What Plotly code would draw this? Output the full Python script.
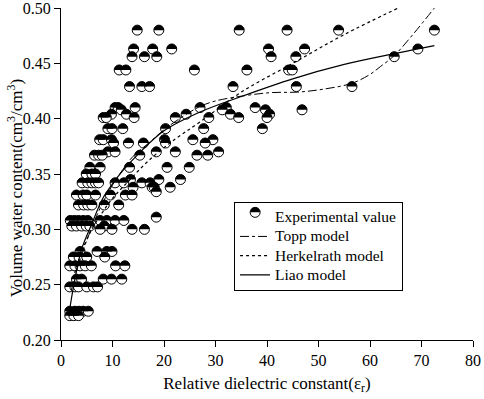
import plotly.graph_objects as go

# ---- data ----
water_levels = [0.480, 0.463, 0.456, 0.444, 0.429, 0.410, 0.408, 0.404, 0.401, 0.391,
                0.381, 0.378, 0.370, 0.367, 0.356, 0.350, 0.345, 0.342, 0.338, 0.334,
                0.331, 0.322, 0.311, 0.308, 0.303, 0.300, 0.280, 0.275, 0.267, 0.255,
                0.248, 0.226, 0.222]
eps_rows = [
    [14.8, 19.0, 34.6, 43.9, 53.9, 72.5],
    [14.1, 17.8, 21.5, 40.3, 47.3, 69.3],
    [13.8, 16.2, 18.6, 40.8, 45.6, 64.7],
    [11.3, 12.6, 25.9, 36.1, 44.2, 44.9],
    [13.3, 15.7, 17.2, 33.4, 45.7, 56.5],
    [10.5, 11.1, 14.4, 27.0, 32.1, 37.7],
    [11.7, 31.3, 39.7, 46.8],
    [9.8, 12.7, 24.3, 32.9, 40.5],
    [8.2, 8.8, 14.2, 22.2, 28.7, 34.5, 40.0],
    [9.1, 9.9, 12.0, 20.3, 27.7, 39.1],
    [7.5, 8.2, 9.8, 20.1, 25.6, 29.5],
    [10.2, 13.1, 16.0, 20.3, 28.0],
    [9.1, 10.5, 18.5, 22.2, 30.6],
    [6.5, 7.3, 8.0, 15.3, 26.4, 28.5],
    [5.6, 7.6, 13.3, 20.6, 24.9],
    [4.9, 6.0, 6.7],
    [13.5, 19.0, 23.2],
    [4.1, 5.2, 6.0, 6.7, 7.3, 10.5, 12.2, 15.7, 17.3],
    [14.0, 17.7, 18.1, 21.2],
    [18.5],
    [3.0, 4.3, 5.0, 6.7, 9.6, 12.5, 13.8],
    [3.4, 4.4, 5.2, 6.0, 8.4, 11.2],
    [18.5],
    [1.8, 2.6, 3.4, 4.3, 5.2, 7.6, 8.9, 10.5, 12.2],
    [2.1, 3.0, 4.0, 4.9, 5.6, 8.4],
    [7.6, 9.9, 13.8, 16.2],
    [3.7, 7.0, 8.9, 9.9],
    [2.4, 3.5, 5.0, 8.5],
    [1.7, 2.7, 3.7, 4.7, 5.9, 10.6, 12.4],
    [3.0, 4.0, 8.2, 9.8, 11.8],
    [1.7, 2.7, 3.4, 5.0, 6.3, 7.1],
    [1.7, 2.7, 3.5, 4.3, 5.3],
    [1.7, 2.5, 3.4],
]

topp_eps = [2, 3, 4, 6, 8, 10, 12, 14, 17.3, 20, 24, 27, 30, 36, 41, 46, 51, 56.5, 60, 62, 64.7, 68.5, 72.5]
topp_theta = [0.245, 0.262, 0.277, 0.302, 0.323, 0.340, 0.354, 0.366, 0.379, 0.390, 0.403, 0.411, 0.416,
              0.421, 0.4236, 0.424, 0.4267, 0.432, 0.440, 0.447, 0.457, 0.477, 0.500]

herk_eps = [2, 3, 4, 6, 8, 10, 13, 17, 22, 27, 35, 45, 55, 65.5]
herk_theta = [0.250, 0.266, 0.280, 0.300, 0.315, 0.328, 0.343, 0.362, 0.381, 0.397, 0.424, 0.450, 0.476, 0.500]

liao_eps = [1.5, 2.5, 4, 6, 8, 10, 12, 15, 20, 27, 35, 45, 55, 65, 72.5]
liao_theta = [0.222, 0.250, 0.282, 0.305, 0.327, 0.341, 0.353, 0.368, 0.389, 0.406, 0.420, 0.436, 0.449, 0.459, 0.466]

series_names = ["Experimental value", "Topp model", "Herkelrath model", "Liao model"]

x_ticks = [0, 10, 20, 30, 40, 50, 60, 70, 80]
y_ticks = [0.20, 0.25, 0.30, 0.35, 0.40, 0.45, 0.50]

exp_eps = [e for row in eps_rows for e in row]
exp_theta = [w for w, row in zip(water_levels, eps_rows) for _ in row]

SERIF = "Times New Roman, Liberation Serif, DejaVu Serif, serif"
R = 5.0                 # marker radius in pixels
K = 0.5523 * R
UPPER_HALF = (f"M {-R},0 C {-R},{K} {-K},{R} 0,{R} "
              f"C {K},{R} {R},{K} {R},0 Z")


def legend_label(name):
    # larger visible text, while the legend rows keep a compact spacing
    return f'<span style="font-size:15.5px">{name}</span>'


def half_fill(xa, ya, xref="x", yref="y"):
    return dict(type="path", path=UPPER_HALF, xref=xref, yref=yref,
                xsizemode="pixel", ysizemode="pixel", xanchor=xa, yanchor=ya,
                fillcolor="black", line=dict(width=0), layer="above")


fig = go.Figure()

# experimental points: white circles with a black outline ...
fig.add_trace(go.Scatter(
    x=exp_eps, y=exp_theta, mode="markers", showlegend=False, hoverinfo="skip",
    marker=dict(symbol="circle", size=2 * R, color="white", line=dict(width=1, color="black"))))

# legend entry for experimental values (its symbol is drawn by shapes below)
fig.add_trace(go.Scatter(
    x=[None], y=[None], mode="markers", name=legend_label(series_names[0]),
    marker=dict(size=9, color="rgba(0,0,0,0)", line=dict(width=0))))

fig.add_trace(go.Scatter(x=topp_eps, y=topp_theta, mode="lines", name=legend_label(series_names[1]),
                         line=dict(color="black", width=1, dash="dashdot", shape="spline")))
fig.add_trace(go.Scatter(x=herk_eps, y=herk_theta, mode="lines", name=legend_label(series_names[2]),
                         line=dict(color="black", width=1.2, dash="dot", shape="spline")))
fig.add_trace(go.Scatter(x=liao_eps, y=liao_theta, mode="lines", name=legend_label(series_names[3]),
                         line=dict(color="black", width=1.2, shape="spline")))

# ... whose upper halves are filled black (anchored at each data point)
shapes = [half_fill(e, t) for e, t in zip(exp_eps, exp_theta)]

# legend symbol for the experimental values
LEG_X, LEG_Y = 0.4712, 0.3845
shapes.append(dict(type="circle", xref="paper", yref="paper", xsizemode="pixel", ysizemode="pixel",
                   xanchor=LEG_X, yanchor=LEG_Y, x0=-R, x1=R, y0=-R, y1=R,
                   fillcolor="white", line=dict(color="black", width=1), layer="above"))
shapes.append(half_fill(LEG_X, LEG_Y, "paper", "paper"))

fig.update_layout(
    width=484, height=399,
    margin=dict(l=61, r=11, t=8, b=59, autoexpand=False),
    paper_bgcolor="white", plot_bgcolor="white",
    font=dict(family=SERIF, color="black", size=16),
    showlegend=True,
    legend=dict(x=0.42, y=0.417, xanchor="left", yanchor="top",
                bgcolor="rgba(0,0,0,0)", bordercolor="black", borderwidth=1,
                font=dict(family=SERIF, size=12.5, color="black"),
                tracegroupgap=0, itemclick=False),
    shapes=shapes,
    annotations=[
        dict(text="Volume water content(cm<sup>3</sup>/cm<sup>3</sup>)", textangle=-90,
             x=-0.111, y=0.458, xref="paper", yref="paper", xanchor="center", yanchor="middle",
             showarrow=False, font=dict(family=SERIF, size=17, color="black")),
    ],
)

fig.update_xaxes(range=[0, 80], tickvals=x_ticks, ticktext=[str(v) for v in x_ticks],
                 showline=True, linecolor="black", linewidth=1.2, ticks="outside",
                 ticklen=6, tickcolor="black", tickwidth=1.2, showgrid=False, zeroline=False,
                 automargin=False, ticklabeloverflow="allow", tickfont=dict(family=SERIF, size=16),
                 title=dict(text="Relative dielectric constant(\u03b5<sub>r</sub>)",
                            font=dict(family=SERIF, size=17), standoff=8))
fig.update_yaxes(range=[0.20, 0.50], tickvals=y_ticks, ticktext=[f"{v:.2f}" for v in y_ticks],
                 showline=True, linecolor="black", linewidth=1.2, ticks="outside",
                 ticklen=6, tickcolor="black", tickwidth=1.2, showgrid=False, zeroline=False,
                 automargin=False, ticklabeloverflow="allow", tickfont=dict(family=SERIF, size=16))

fig.write_html("out.html", config={"displayModeBar": False},
               post_script="document.body.style.margin='0px';")
